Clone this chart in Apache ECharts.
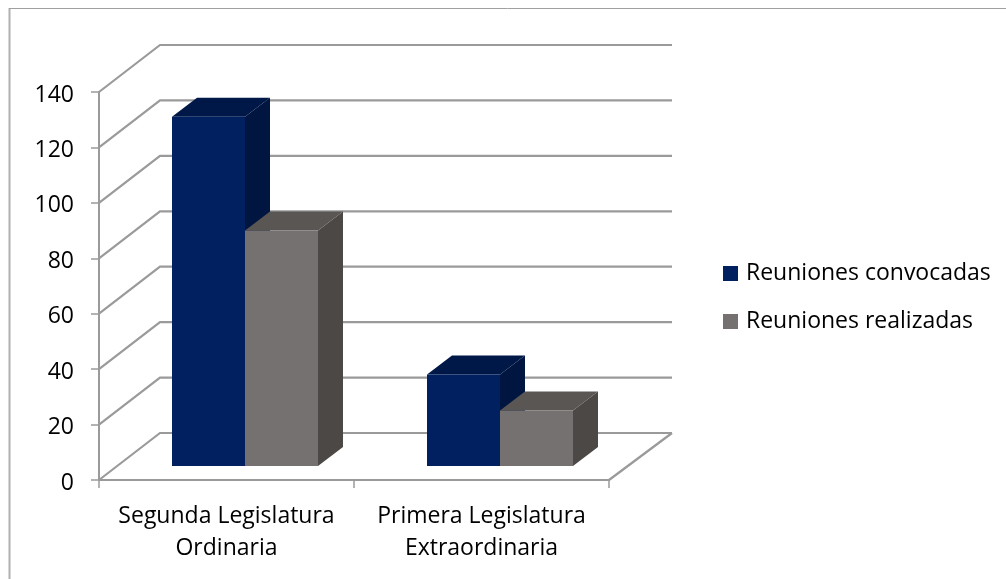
<!DOCTYPE html>
<html>
<head>
<meta charset="utf-8">
<title>Reuniones</title>
<script src="https://cdn.jsdelivr.net/npm/echarts@6/dist/echarts.min.js"></script>
<style>
  html, body { margin: 0; padding: 0; background: #fff; }
  #chart { width: 1006px; height: 579px; }
</style>
</head>
<body>
<div id="chart"></div>
<script>
const categories = ['Segunda Legislatura\nOrdinaria', 'Primera Legislatura\nExtraordinaria']
const convocadas = [126, 33]
const realizadas = [85, 20]
const yTicks = [0, 20, 40, 60, 80, 100, 120, 140]

const FONT = '"Open Sans", Lato, sans-serif'
const LINE = '#9a9a9a'
// 3D look: wall depth and bar depth/offset, in pixels
const WALL_DX = 61
const WALL_DY = -47
const BAR_W = 73
const BAR_SHIFT_X = 18.5
const BAR_SHIFT_Y = -14
const BAR_DX = 25
const BAR_DY = -19

function poly(points, fill) {
  return { type: 'polygon', shape: { points }, style: { fill }, silent: true }
}

function renderBar(side, front, top, right) {
  return function (params, api) {
    const base = api.coord([api.value(0), 0])
    const head = api.coord([api.value(0), api.value(1)])
    const x0 = base[0] + BAR_SHIFT_X + (side === 0 ? -BAR_W : 0)
    const x1 = x0 + BAR_W
    const y0 = base[1] + BAR_SHIFT_Y
    const y1 = head[1] + BAR_SHIFT_Y
    return {
      type: 'group',
      children: [
        poly([[x1, y0], [x1 + BAR_DX, y0 + BAR_DY], [x1 + BAR_DX, y1 + BAR_DY], [x1, y1]], right),
        poly([[x0, y1], [x1, y1], [x1 + BAR_DX, y1 + BAR_DY], [x0 + BAR_DX, y1 + BAR_DY]], top),
        poly([[x0, y0], [x1, y0], [x1, y1], [x0, y1]], front)
      ]
    }
  }
}

// gridlines over the side wall and the back wall, plus the floor's right edge
function renderWall(params, api) {
  const cs = params.coordSys
  const y = api.coord([0, api.value(1)])[1]
  const right = cs.x + cs.width
  const children = [{
    type: 'polyline',
    shape: { points: [[cs.x, y], [cs.x + WALL_DX, y + WALL_DY], [right + WALL_DX + 2, y + WALL_DY]] },
    style: { stroke: LINE, lineWidth: 2.2, fill: null }
  }]
  if (api.value(1) === 0) {
    children.push({
      type: 'line',
      shape: { x1: right, y1: y, x2: right + WALL_DX + 2, y2: y + WALL_DY },
      style: { stroke: LINE, lineWidth: 2.2 }
    })
  }
  return { type: 'group', children }
}

const chart = echarts.init(document.getElementById('chart'), null, { renderer: 'canvas' })

chart.setOption({
  animation: false,
  backgroundColor: '#fff',
  textStyle: { fontFamily: FONT },
  graphic: [
    { type: 'line', shape: { x1: 9.5, y1: 8, x2: 9.5, y2: 579 }, style: { stroke: '#b0b0b0', lineWidth: 2 } },
    { type: 'line', shape: { x1: 9, y1: 8.5, x2: 1006, y2: 8.5 }, style: { stroke: '#a0a0a0', lineWidth: 1 } }
  ],
  legend: {
    orient: 'vertical',
    left: 718,
    top: 257,
    itemWidth: 15,
    itemHeight: 15,
    itemGap: 25,
    icon: 'rect',
    data: ['Reuniones convocadas', 'Reuniones realizadas'],
    textStyle: { fontFamily: FONT, fontSize: 23, color: '#000', padding: [2, 0, 0, 3] }
  },
  grid: { left: 99, top: 92, width: 510, height: 388 },
  xAxis: {
    type: 'category',
    data: categories,
    axisLine: { lineStyle: { color: LINE, width: 2 } },
    axisTick: { show: true, length: 8, lineStyle: { color: LINE, width: 1.5 } },
    axisLabel: { color: '#000', fontFamily: FONT, fontSize: 23, lineHeight: 32, margin: 20, interval: 0 },
    splitLine: { show: false }
  },
  yAxis: {
    type: 'value',
    min: yTicks[0],
    max: yTicks[yTicks.length - 1],
    interval: 20,
    axisLine: { show: true, lineStyle: { color: LINE, width: 2 } },
    axisTick: { show: true, length: 8, lineStyle: { color: LINE, width: 1.5 } },
    axisLabel: {
      color: '#000',
      margin: 25,
      formatter: '{v|{value}}',
      rich: { v: { fontFamily: FONT, fontSize: 23, color: '#000', padding: [6, 0, 0, 0] } }
    },
    splitLine: { show: false }
  },
  series: [
    {
      name: 'wall',
      type: 'custom',
      silent: true,
      z: 1,
      renderItem: renderWall,
      data: yTicks.map(v => [0, v])
    },
    {
      name: 'Reuniones convocadas',
      type: 'custom',
      z: 2,
      itemStyle: { color: '#002060' },
      renderItem: renderBar(0, '#002060', '#001848', '#001540'),
      data: convocadas.map((v, i) => [i, v])
    },
    {
      name: 'Reuniones realizadas',
      type: 'custom',
      z: 3,
      itemStyle: { color: '#767171' },
      renderItem: renderBar(1, '#767171', '#5a5654', '#4c4846'),
      data: realizadas.map((v, i) => [i, v])
    }
  ]
})
</script>
</body>
</html>
